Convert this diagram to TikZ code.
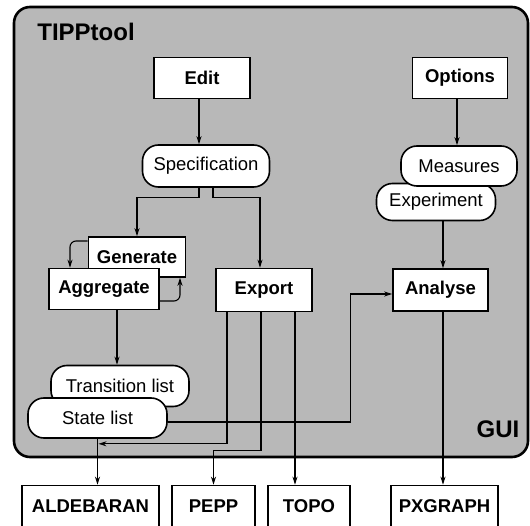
\documentclass[tikz,border=0pt]{standalone}
\usepackage{fontspec}
\setmainfont{Liberation Sans}
\usetikzlibrary{arrows.meta}
\tikzstyle{arrow} = [line width=1.1pt,->,>={Stealth[length=8pt,width=5pt]}]
\tikzstyle{box} = [rectangle, minimum height=41pt, text centered, draw=black, line width=1.6pt, fill=white, font=\fontsize{18.5}{20}\selectfont\bfseries]
\tikzstyle{pill} = [rectangle, rounded corners=16pt, minimum height=40pt, text centered, draw=black, line width=1.6pt, fill=white, font=\fontsize{18.5}{20}\selectfont]
\tikzstyle{frame} = [rounded corners=16pt, draw=black, line width=2.6pt, fill=black!28]
\tikzstyle{heading} = [font=\fontsize{24}{26}\selectfont\bfseries]

\begin{document}
\begin{tikzpicture}[node distance=88pt]
        \useasboundingbox (0,0) rectangle (530pt,-526pt);
        % GUI area
        \draw [frame] (14pt,-7pt) rectangle (528pt,-457pt);
        \node (title) [heading] at (86pt,-32pt) {TIPPtool};
        \node (gui) [heading] at (498pt,-429pt) {GUI};
        % tools inside the GUI
        \node (edit) [box, minimum width=96pt] at (202pt,-78pt) {Edit};
        \node (spec) [pill, minimum width=127pt, minimum height=42pt, below of=edit, xshift=4pt] {Specification};
        \node (options) [box, minimum width=95pt, right of=edit, xshift=170pt] {Options};
        \node (experiment) [pill, minimum width=119pt, minimum height=37pt, node distance=124pt, below of=options, xshift=-24pt] {Experiment};
        \node (measures) [pill, minimum width=116pt, below of=options, xshift=-1pt] {Measures};
        \node (generate) [box, minimum width=97pt, minimum height=40pt, below of=spec, xshift=-69pt, yshift=-3pt] {Generate};
        \node (aggregate) [box, minimum width=110pt, node distance=32pt, below of=generate, xshift=-33pt] {Aggregate};
        \node (export) [box, minimum width=96pt, minimum height=43pt, node distance=124pt, below of=spec, xshift=58pt] {Export};
        \node (analyse) [box, minimum width=95pt, minimum height=42pt, below of=experiment, xshift=4.5pt] {Analyse};
        \node (translist) [pill, minimum width=138pt, minimum height=41pt, node distance=97pt, below of=aggregate, xshift=16pt] {Transition list};
        \node (statelist) [pill, minimum width=139pt, node distance=32pt, below of=translist, xshift=-22.5pt] {State list};
        % external tools
        \node (aldebaran) [box, minimum width=137pt, below of=statelist, xshift=-7pt] {ALDEBARAN};
        \node (pepp) [box, minimum width=83pt, node distance=123pt, right of=aldebaran] {PEPP};
        \node (topo) [box, minimum width=82pt, node distance=95.5pt, right of=pepp] {TOPO};
        \node (pxgraph) [box, minimum width=107pt, node distance=135.5pt, right of=topo] {PXGRAPH};
        % connectors
        \draw [arrow] ([xshift=-3pt]edit.south) -- ([xshift=-3pt]edit.south |- spec.north);
        \draw [arrow] ([xshift=-3pt]options.south) -- ([xshift=-3pt]options.south |- measures.north);
        \draw [arrow] ([xshift=-7pt]spec.south) -- ++(0,-10pt) -| (generate.north);
        \draw [arrow] ([xshift=7pt]spec.south) -- ++(0,-10pt) -| ([xshift=-4pt]export.north);
        \draw [arrow, rounded corners=6pt] ([yshift=16pt]generate.west) -| ([xshift=-34pt]aggregate.north);
        \draw [arrow, rounded corners=6pt] ([yshift=-12pt]aggregate.east) -| ([xshift=43pt]generate.south);
        \draw [arrow] ([xshift=13pt]aggregate.south) -- ([xshift=13pt]aggregate.south |- translist.north);
        \draw [arrow] ([xshift=7pt]experiment.south) -- ([xshift=7pt]experiment.south |- analyse.north);
        \draw [arrow] ([xshift=2.5pt]analyse.south) -- ([xshift=2.5pt]analyse.south |- pxgraph.north);
        \draw [arrow] ([yshift=-4pt]statelist.east) -- ++(183pt,0) |- ([yshift=-4pt]analyse.west);
        \draw [arrow] ([xshift=-37pt]export.south) |- ([shift={(1pt,-5pt)}]statelist.south);
        \draw [arrow] (statelist.south) -- (statelist.south |- aldebaran.north);
        \draw [arrow] ([xshift=-3pt]export.south) -- ++(0,-138pt) -| (pepp.north);
        \draw [arrow] ([xshift=31pt]export.south) -- ([xshift=31pt]export.south |- topo.north);
    \end{tikzpicture}
\end{document}
